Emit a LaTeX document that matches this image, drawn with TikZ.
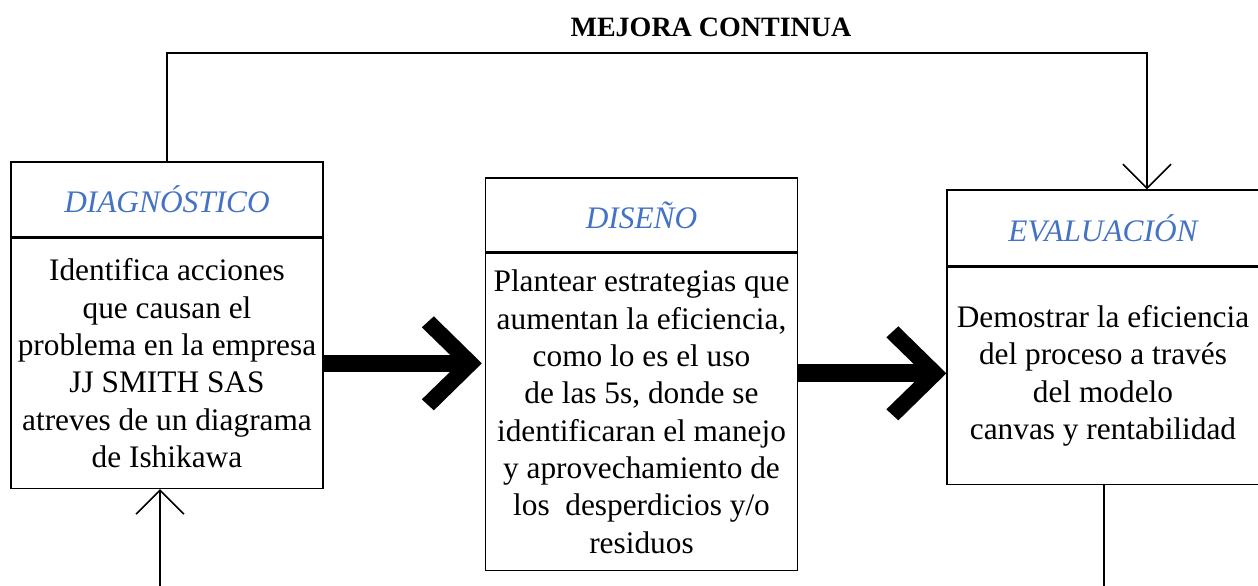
\documentclass[tikz,border=0pt]{standalone}
\usepackage{fontspec}
\setmainfont{Liberation Serif}
\usetikzlibrary{arrows.meta,calc}
\definecolor{hdrblue}{HTML}{4472C4}
\begin{document}
\begin{tikzpicture}[x=0.75pt,y=-0.75pt,
  box/.style={draw, line width=1pt, inner sep=0pt, minimum width=234pt},
  hdr/.style={box, font=\fontsize{23.5}{28}\selectfont\itshape, text=hdrblue},
  body/.style={box, align=center, font=\fontsize{23.5}{28}\selectfont},
  conn/.style={line width=1.2pt},
  tipv/.style={-{Straight Barb[length=18pt,width=36pt]}},
  fat/.style={fill=black}]
\useasboundingbox (0,0) rectangle (1258,586);
\clip (0,0) rectangle (1258,586);

% title
\node[font=\bfseries\fontsize{21}{24}\selectfont] (title) at (711,27) {MEJORA CONTINUA};

% box 1
\node[hdr, minimum height=56.25pt] (h1) at (167,199.5) {DIAGNÓSTICO};
\node[body, minimum height=187.5pt, anchor=north] (b1) at (h1.south)
  {Identifica acciones\\que causan el\\problema en la empresa\\JJ SMITH SAS\\atreves de un diagrama\\de Ishikawa};

% box 2
\node[hdr, minimum height=55.5pt] (h2) at (641.5,215) {DISEÑO};
\node[body, minimum height=237.75pt, anchor=north] (b2) at (h2.south)
  {Plantear estrategias que\\aumentan la eficiencia,\\como lo es el uso\\de las 5s, donde se\\identificaran el manejo\\y aprovechamiento de\\los~ desperdicios y/o\\residuos};

% box 3
\node[hdr, minimum height=57pt] (h3) at (1103,228) {EVALUACIÓN};
\node[body, minimum height=162.75pt, anchor=north] (b3) at (h3.south)
  {Demostrar la eficiencia\\ del proceso a través\\del modelo\\canvas y rentabilidad};

% thin connectors
\coordinate (topy) at (0,53);
\coordinate (c3) at (1147,0);
\draw[conn, tipv] (h1.north) -- (h1.north |- topy) -| (h3.north -| c3);
\coordinate (bot1) at (160,586);
\draw[conn, tipv] (bot1) -- (b1.south -| bot1);
\coordinate (bot3) at (1104,586);
\draw[conn] (b3.south -| bot3) -- (bot3);

% fat arrow 1
\coordinate (t1) at ($(b2.west |- b1.east)+(-3,0)$);
\fill[fat] ($(b1.east)+(0,-8.5)$) rectangle ($(t1)+(-23,8.5)$);
\fill[fat] (t1) -- ++(-48,-47) -- ++(-12,11) -- ++(37,36) -- ++(-37,36) -- ++(12,11) -- cycle;

% fat arrow 2
\coordinate (t2) at ($(b3.west)+(0,-2.5)$);
\fill[fat] ($(b2.east |- t2)+(0,-9)$) rectangle ($(t2)+(-23,9)$);
\fill[fat] (t2) -- ++(-48,-47) -- ++(-12,11) -- ++(37,36) -- ++(-37,36) -- ++(12,11) -- cycle;
\end{tikzpicture}
\end{document}
